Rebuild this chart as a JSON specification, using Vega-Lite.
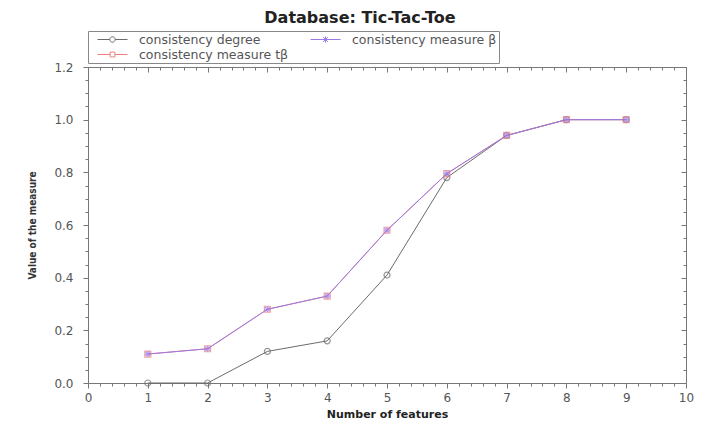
{
  "$schema": "https://vega.github.io/schema/vega-lite/v6.json",
  "width": 598,
  "height": 316,
  "autosize": {"type": "none"},
  "padding": {"left": 88, "top": 67, "right": 16, "bottom": 53},
  "background": "white",
  "title": {"text": "Database: Tic-Tac-Toe", "font": "DejaVu Sans", "fontSize": 16, "fontWeight": "bold", "color": "#222", "offset": 5, "anchor": "middle", "dx": -27},
  "config": {
    "view": {"stroke": null},
    "font": "DejaVu Sans"
  },
  "data": {"values": [
    {"x": 1, "y": 0.0, "s": "consistency degree"},
    {"x": 2, "y": 0.0, "s": "consistency degree"},
    {"x": 3, "y": 0.12, "s": "consistency degree"},
    {"x": 4, "y": 0.16, "s": "consistency degree"},
    {"x": 5, "y": 0.41, "s": "consistency degree"},
    {"x": 6, "y": 0.78, "s": "consistency degree"},
    {"x": 7, "y": 0.94, "s": "consistency degree"},
    {"x": 8, "y": 1.0, "s": "consistency degree"},
    {"x": 9, "y": 1.0, "s": "consistency degree"},
    {"x": 1, "y": 0.11, "s": "consistency measure tβ"},
    {"x": 2, "y": 0.13, "s": "consistency measure tβ"},
    {"x": 3, "y": 0.28, "s": "consistency measure tβ"},
    {"x": 4, "y": 0.33, "s": "consistency measure tβ"},
    {"x": 5, "y": 0.58, "s": "consistency measure tβ"},
    {"x": 6, "y": 0.795, "s": "consistency measure tβ"},
    {"x": 7, "y": 0.94, "s": "consistency measure tβ"},
    {"x": 8, "y": 1.0, "s": "consistency measure tβ"},
    {"x": 9, "y": 1.0, "s": "consistency measure tβ"},
    {"x": 1, "y": 0.11, "s": "consistency measure β"},
    {"x": 2, "y": 0.13, "s": "consistency measure β"},
    {"x": 3, "y": 0.28, "s": "consistency measure β"},
    {"x": 4, "y": 0.33, "s": "consistency measure β"},
    {"x": 5, "y": 0.58, "s": "consistency measure β"},
    {"x": 6, "y": 0.795, "s": "consistency measure β"},
    {"x": 7, "y": 0.94, "s": "consistency measure β"},
    {"x": 8, "y": 1.0, "s": "consistency measure β"},
    {"x": 9, "y": 1.0, "s": "consistency measure β"}
  ]},
  "encoding": {
    "x": {"field": "x", "type": "quantitative", "scale": {"domain": [0, 10], "nice": false, "zero": false}},
    "y": {"field": "y", "type": "quantitative", "scale": {"domain": [0, 1.2], "nice": false}},
    "color": {"field": "s", "type": "nominal",
      "scale": {"domain": ["consistency degree", "consistency measure β", "consistency measure tβ"], "range": ["#6b6b6b", "#9a7ae6", "#ef7f7f"]},
      "legend": {"title": null, "orient": "top", "direction": "horizontal", "columns": 2, "columnPadding": 14, "rowPadding": 2, "labelFont": "DejaVu Sans", "labelFontSize": 12.5, "labelColor": "#555", "strokeColor": "#888", "padding": 2, "offset": 3, "symbolSize": 144, "symbolStrokeWidth": 1, "labelLimit": 300, "symbolOffset": 16, "labelOffset": 20,
        "symbolType": "M-2.5,0L-0.45,0M0.45,0L2.5,0M-0.45,0A0.45,0.45 0 1,0 0.45,0A0.45,0.45 0 1,0 -0.45,0",
        "encode": {"symbols": {"update": {
          "shape": {"signal": "datum.value === 'consistency degree' ? 'M-2.5,0L-0.45,0M0.45,0L2.5,0M-0.45,0A0.45,0.45 0 1,0 0.45,0A0.45,0.45 0 1,0 -0.45,0' : datum.value === 'consistency measure β' ? 'M-2.5,0L2.5,0M0,-0.5L0,0.5M-0.4,-0.4L0.4,0.4M-0.4,0.4L0.4,-0.4' : 'M-2.5,0L-0.4,0M0.4,0L2.5,0M-0.4,-0.4L0.4,-0.4L0.4,0.4L-0.4,0.4Z'"},
          "fill": {"value": "transparent"}}}}}
    }
  },
  "layer": [
    {
      "mark": {"type": "line", "strokeWidth": 1},
      "encoding": {
        "order": {"field": "x", "type": "quantitative"},
        "x": {"field": "x", "type": "quantitative", "axis": {
          "orient": "bottom", "title": "Number of features", "titleFont": "DejaVu Sans", "titleFontSize": 11, "titleFontWeight": "bold", "titleColor": "#222", "titlePadding": 5,
          "values": [0,0.2,0.4,0.6,0.8,1,1.2,1.4,1.6,1.8,2,2.2,2.4,2.6,2.8,3,3.2,3.4,3.6,3.8,4,4.2,4.4,4.6,4.8,5,5.2,5.4,5.6,5.8,6,6.2,6.4,6.6,6.8,7,7.2,7.4,7.6,7.8,8,8.2,8.4,8.6,8.8,9,9.2,9.4,9.6,9.8,10],
          "labelExpr": "abs(datum.value - round(datum.value)) < 0.001 ? format(datum.value, 'd') : ''",
          "tickSize": {"condition": {"test": "abs(datum.value - round(datum.value)) < 0.001", "value": 5}, "value": 3},
          "grid": false, "domainColor": "#777", "tickColor": "#777", "labelColor": "#555", "labelFont": "DejaVu Sans", "labelFontSize": 12, "labelPadding": 4, "labelFlush": false, "labelOverlap": false}},
        "y": {"field": "y", "type": "quantitative", "axis": {
          "orient": "left", "title": "Value of the measure", "titleFont": "DejaVu Sans Condensed, DejaVu Sans", "titleFontSize": 10, "titleFontWeight": "bold", "titleColor": "#333", "titlePadding": 16,
          "values": [0,0.05,0.1,0.15,0.2,0.25,0.3,0.35,0.4,0.45,0.5,0.55,0.6,0.65,0.7,0.75,0.8,0.85,0.9,0.95,1.0,1.05,1.1,1.15,1.2],
          "labelExpr": "abs(datum.value*5 - round(datum.value*5)) < 0.001 ? format(datum.value, '.1f') : ''",
          "tickSize": {"condition": {"test": "abs(datum.value*5 - round(datum.value*5)) < 0.001", "value": 5}, "value": 3},
          "grid": false, "domainColor": "#777", "tickColor": "#777", "labelColor": "#555", "labelFont": "DejaVu Sans", "labelFontSize": 12, "labelPadding": 10, "labelFlush": false, "labelOverlap": false}}
      }
    },
    {
      "transform": [{"filter": "datum.s === 'consistency degree'"}],
      "mark": {"type": "point", "filled": false, "size": 36, "strokeWidth": 1.2, "shape": "circle"},
      "encoding": {
        "x": {"field": "x", "type": "quantitative", "axis": {
          "orient": "top", "title": null, "labels": false,
          "values": [0,0.2,0.4,0.6,0.8,1,1.2,1.4,1.6,1.8,2,2.2,2.4,2.6,2.8,3,3.2,3.4,3.6,3.8,4,4.2,4.4,4.6,4.8,5,5.2,5.4,5.6,5.8,6,6.2,6.4,6.6,6.8,7,7.2,7.4,7.6,7.8,8,8.2,8.4,8.6,8.8,9,9.2,9.4,9.6,9.8,10],
          "tickSize": {"condition": {"test": "abs(datum.value - round(datum.value)) < 0.001", "value": -5}, "value": -3},
          "grid": false, "domainColor": "#777", "tickColor": "#777"}},
        "y": {"field": "y", "type": "quantitative", "axis": {
          "orient": "right", "title": null, "labels": false,
          "values": [0,0.05,0.1,0.15,0.2,0.25,0.3,0.35,0.4,0.45,0.5,0.55,0.6,0.65,0.7,0.75,0.8,0.85,0.9,0.95,1.0,1.05,1.1,1.15,1.2],
          "tickSize": {"condition": {"test": "abs(datum.value*5 - round(datum.value*5)) < 0.001", "value": -5}, "value": -3},
          "grid": false, "domainColor": "#777", "tickColor": "#777"}}
      }
    },
    {
      "transform": [{"filter": "datum.s === 'consistency measure tβ'"}],
      "mark": {"type": "point", "filled": false, "size": 36, "strokeWidth": 1.2, "shape": "square"},
      "encoding": {
        "x": {"field": "x", "type": "quantitative", "axis": null},
        "y": {"field": "y", "type": "quantitative", "axis": null}
      }
    },
    {
      "transform": [{"filter": "datum.s === 'consistency measure β'"}],
      "mark": {"type": "point", "filled": false, "size": 36, "strokeWidth": 1.2, "shape": "M-1,0L1,0M0,-1L0,1M-0.75,-0.75L0.75,0.75M-0.75,0.75L0.75,-0.75"},
      "encoding": {
        "x": {"field": "x", "type": "quantitative", "axis": null},
        "y": {"field": "y", "type": "quantitative", "axis": null}
      }
    }
  ],
  "resolve": {"axis": {"x": "independent", "y": "independent"}}
}
